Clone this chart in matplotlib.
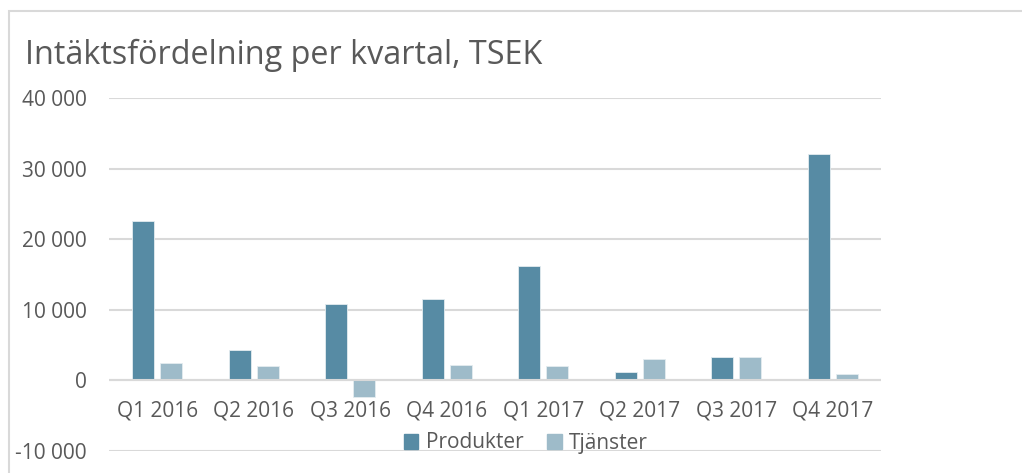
import numpy as np
import matplotlib
matplotlib.use("Agg")
import matplotlib.pyplot as plt
from matplotlib.patches import Rectangle, Patch

plt.rcParams["font.family"] = ["Open Sans", "DejaVu Sans"]

TITLE = "Intäktsfördelning per kvartal, TSEK"
quarters = ["Q1 2016", "Q2 2016", "Q3 2016", "Q4 2016",
            "Q1 2017", "Q2 2017", "Q3 2017", "Q4 2017"]
produkter = [22550, 4250, 10800, 11500, 16200, 1200, 3300, 32050]
tjanster = [2400, 2100, -2350, 2250, 2000, 3000, 3350, 950]
yticks = [-10000, 0, 10000, 20000, 30000, 40000]

TEXT = "#595959"
GRID = "#D9D9D9"
C_PROD = "#578BA4"
C_TJ = "#9EBBC9"

W, H = 1022, 473
fig = plt.figure(figsize=(W / 100, H / 100), dpi=100)

# chart border (only top/left visible in the crop)
fig.patches.append(Rectangle((9 / W, -0.1), 1.2, 1 - 11 / H + 0.1,
                             transform=fig.transFigure, fill=False,
                             edgecolor=GRID, lw=1.5))

ax = fig.add_axes([109 / W, 1 - 451 / H, 772 / W, (451 - 98) / H])
x = np.arange(len(quarters))
bw = 0.228
off = 0.145
ax.bar(x - off, produkter, bw, color=C_PROD, edgecolor="#E4ECF0", lw=0.6,
       zorder=3, label="Produkter")
ax.bar(x + off, tjanster, bw, color=C_TJ, edgecolor="#E4ECF0", lw=0.6,
       zorder=3, label="Tjänster")

ax.set_xlim(-0.5, len(quarters) - 0.5)
ax.set_ylim(yticks[0], yticks[-1])
ax.set_yticks(yticks)
ax.set_yticklabels([f"{v:,}".replace(",", " ") for v in yticks])
ax.set_xticks([])
ax.tick_params(axis="y", length=0, pad=16, labelsize=15, labelcolor=TEXT)
for s in ax.spines.values():
    s.set_visible(False)
ax.grid(axis="y", color=GRID, lw=1.5, zorder=0)
ax.axhline(0, color=GRID, lw=1.5, zorder=4)

for i, q in enumerate(quarters):
    ax.annotate(q, xy=(i, 0), xytext=(0, -31), textcoords="offset pixels",
                ha="center", va="center", fontsize=15, color=TEXT)

fig.text(25 / W, 1 - 64 / H, TITLE, fontsize=23.3, color=TEXT,
         ha="left", va="baseline")

handles = [Patch(color=C_PROD, label="Produkter"),
           Patch(color=C_TJ, label="Tjänster")]
fig.legend(handles=handles, loc="center", bbox_to_anchor=(526 / W, 1 - 443 / H),
           ncol=2, frameon=False, fontsize=15, labelcolor=TEXT,
           handlelength=0.7, handleheight=0.7, handletextpad=0.35,
           columnspacing=1.15)

fig.savefig("out.png", dpi=100)
